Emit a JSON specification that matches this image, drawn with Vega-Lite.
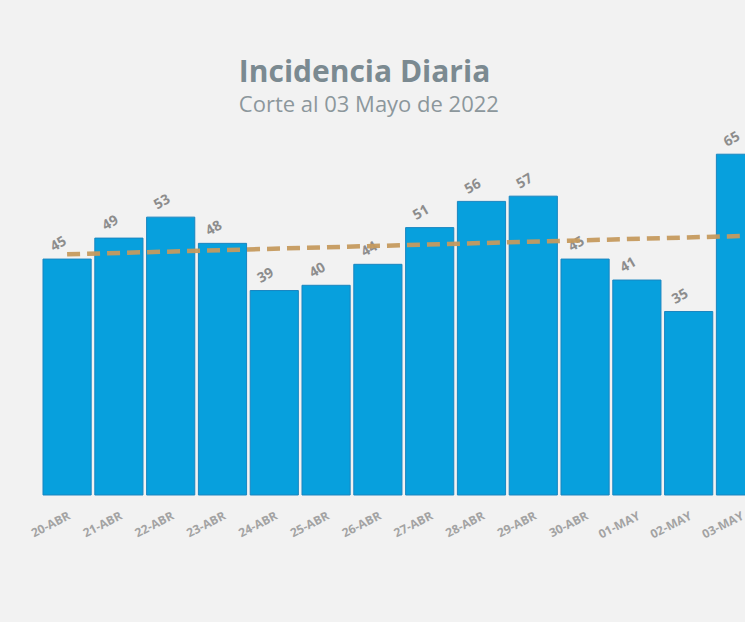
{
  "$schema": "https://vega.github.io/schema/vega-lite/v6.json",
  "autosize": {"type": "none"},
  "width": {"step": 51.8},
  "height": 367,
  "padding": {"left": 43, "right": -20, "top": 128, "bottom": 127},
  "background": "#f2f2f2",
  "view": {"stroke": null},
  "title": {
    "text": "Incidencia Diaria",
    "subtitle": "Corte al 03 Mayo de 2022",
    "anchor": "start",
    "dx": 210,
    "offset": 12,
    "font": "Open Sans",
    "fontSize": 30,
    "fontWeight": 700,
    "color": "#7b8a91",
    "subtitleFont": "Open Sans",
    "subtitleFontSize": 22,
    "subtitleFontWeight": 400,
    "subtitleColor": "#8c979c",
    "subtitlePadding": 7
  },
  "data": {
    "values": [
      {"fecha": "20-ABR", "casos": 45, "tendencia": 45.9},
      {"fecha": "21-ABR", "casos": 49},
      {"fecha": "22-ABR", "casos": 53},
      {"fecha": "23-ABR", "casos": 48},
      {"fecha": "24-ABR", "casos": 39},
      {"fecha": "25-ABR", "casos": 40},
      {"fecha": "26-ABR", "casos": 44},
      {"fecha": "27-ABR", "casos": 51},
      {"fecha": "28-ABR", "casos": 56},
      {"fecha": "29-ABR", "casos": 57},
      {"fecha": "30-ABR", "casos": 45},
      {"fecha": "01-MAY", "casos": 41},
      {"fecha": "02-MAY", "casos": 35},
      {"fecha": "03-MAY", "casos": 65, "tendencia": 49.4}
    ]
  },
  "encoding": {
    "x": {
      "field": "fecha",
      "type": "nominal",
      "sort": null,
      "scale": {"paddingInner": 0.07, "paddingOuter": 0, "align": 0},
      "axis": {
        "title": null,
        "domain": false,
        "ticks": false,
        "labelAngle": -27,
        "labelAlign": "right",
        "labelBaseline": "top",
        "labelPadding": 15,
        "labelFont": "Open Sans",
        "labelFontSize": 12,
        "labelFontWeight": 700,
        "labelColor": "#a3a3a3"
      }
    }
  },
  "layer": [
    {
      "mark": {"type": "bar", "color": "#07a0dd", "stroke": "#1a86c0", "strokeWidth": 1},
      "encoding": {
        "y": {
          "field": "casos",
          "type": "quantitative",
          "scale": {"domain": [0, 70], "nice": false},
          "axis": null
        }
      }
    },
    {
      "mark": {
        "type": "text",
        "angle": -30,
        "dy": -17,
        "font": "Open Sans",
        "fontSize": 14,
        "fontWeight": 700,
        "color": "#8d8d8d",
        "baseline": "middle",
        "align": "center"
      },
      "encoding": {
        "y": {"field": "casos", "type": "quantitative"},
        "text": {"field": "casos", "type": "quantitative"}
      }
    },
    {
      "transform": [{"filter": "datum.tendencia != null"}],
      "mark": {
        "type": "line",
        "color": "#c59a5e",
        "strokeWidth": 4.5,
        "strokeDash": [13, 7],
        "opacity": 0.95
      },
      "encoding": {
        "y": {"field": "tendencia", "type": "quantitative"}
      }
    }
  ]
}
